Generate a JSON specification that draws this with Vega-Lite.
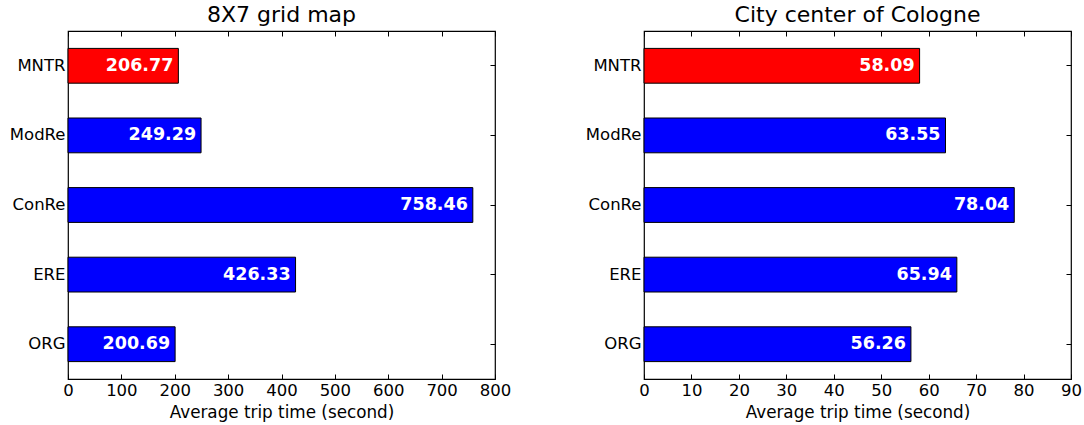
{
  "$schema": "https://vega.github.io/schema/vega-lite/v6.json",
  "padding": {"left": 8, "top": 2, "right": 0, "bottom": 0},
  "data": {
    "values": [
      {"panel": "grid", "method": "MNTR", "value": 206.77},
      {"panel": "grid", "method": "ModRe", "value": 249.29},
      {"panel": "grid", "method": "ConRe", "value": 758.46},
      {"panel": "grid", "method": "ERE", "value": 426.33},
      {"panel": "grid", "method": "ORG", "value": 200.69},
      {"panel": "cologne", "method": "MNTR", "value": 58.09},
      {"panel": "cologne", "method": "ModRe", "value": 63.55},
      {"panel": "cologne", "method": "ConRe", "value": 78.04},
      {"panel": "cologne", "method": "ERE", "value": 65.94},
      {"panel": "cologne", "method": "ORG", "value": 56.26}
    ]
  },
  "spacing": 72,
  "hconcat": [
    {
      "title": "8X7 grid map",
      "width": 427,
      "height": 348,
      "transform": [{"filter": "datum.panel === 'grid'"}],
      "encoding": {
        "y": {
          "field": "method",
          "type": "nominal",
          "sort": ["MNTR", "ModRe", "ConRe", "ERE", "ORG"],
          "scale": {"paddingInner": 0.5, "paddingOuter": 0.25},
          "axis": {"title": null}
        },
        "x": {
          "field": "value",
          "type": "quantitative",
          "scale": {"domain": [0, 800], "nice": false},
          "axis": {"title": "Average trip time (second)", "values": [0, 100, 200, 300, 400, 500, 600, 700, 800]}
        }
      },
      "layer": [
        {
          "mark": {"type": "bar", "stroke": "black", "strokeWidth": 1},
          "encoding": {
            "color": {
              "condition": {"test": "datum.method === 'MNTR'", "value": "#ff0000"},
              "value": "#0000ff"
            }
          }
        },
        {
          "mark": {"type": "text", "align": "right", "dx": -5, "color": "white", "fontWeight": "bold", "fontSize": 17.5},
          "encoding": {
            "text": {"field": "value", "type": "quantitative", "format": ".2f"},
            "x": {
              "field": "value",
              "type": "quantitative",
              "axis": {"orient": "top", "title": null, "labels": false, "values": [0, 100, 200, 300, 400, 500, 600, 700, 800]}
            },
            "y": {
              "field": "method",
              "type": "nominal",
              "sort": ["MNTR", "ModRe", "ConRe", "ERE", "ORG"],
              "axis": {"orient": "right", "title": null, "labels": false}
            }
          }
        }
      ],
      "resolve": {"axis": {"x": "independent", "y": "independent"}}
    },
    {
      "title": "City center of Cologne",
      "width": 427,
      "height": 348,
      "transform": [{"filter": "datum.panel === 'cologne'"}],
      "encoding": {
        "y": {
          "field": "method",
          "type": "nominal",
          "sort": ["MNTR", "ModRe", "ConRe", "ERE", "ORG"],
          "scale": {"paddingInner": 0.5, "paddingOuter": 0.25},
          "axis": {"title": null}
        },
        "x": {
          "field": "value",
          "type": "quantitative",
          "scale": {"domain": [0, 90], "nice": false},
          "axis": {"title": "Average trip time (second)", "values": [0, 10, 20, 30, 40, 50, 60, 70, 80, 90]}
        }
      },
      "layer": [
        {
          "mark": {"type": "bar", "stroke": "black", "strokeWidth": 1},
          "encoding": {
            "color": {
              "condition": {"test": "datum.method === 'MNTR'", "value": "#ff0000"},
              "value": "#0000ff"
            }
          }
        },
        {
          "mark": {"type": "text", "align": "right", "dx": -5, "color": "white", "fontWeight": "bold", "fontSize": 17.5},
          "encoding": {
            "text": {"field": "value", "type": "quantitative", "format": ".2f"},
            "x": {
              "field": "value",
              "type": "quantitative",
              "axis": {"orient": "top", "title": null, "labels": false, "values": [0, 10, 20, 30, 40, 50, 60, 70, 80, 90]}
            },
            "y": {
              "field": "method",
              "type": "nominal",
              "sort": ["MNTR", "ModRe", "ConRe", "ERE", "ORG"],
              "axis": {"orient": "right", "title": null, "labels": false}
            }
          }
        }
      ],
      "resolve": {"axis": {"x": "independent", "y": "independent"}}
    }
  ],
  "config": {
    "font": "DejaVu Sans",
    "view": {"stroke": "black", "strokeWidth": 1.2},
    "title": {"fontSize": 22, "fontWeight": "normal", "color": "black", "offset": 4},
    "axis": {
      "domain": false,
      "grid": false,
      "tickSize": -5,
      "tickColor": "black",
      "labelColor": "black",
      "labelFontSize": 16.5,
      "labelFlush": false,
      "labelPadding": 8,
      "titleFontSize": 16.8,
      "titleFontWeight": "normal",
      "titleColor": "black",
      "titlePadding": 6
    }
  }
}
